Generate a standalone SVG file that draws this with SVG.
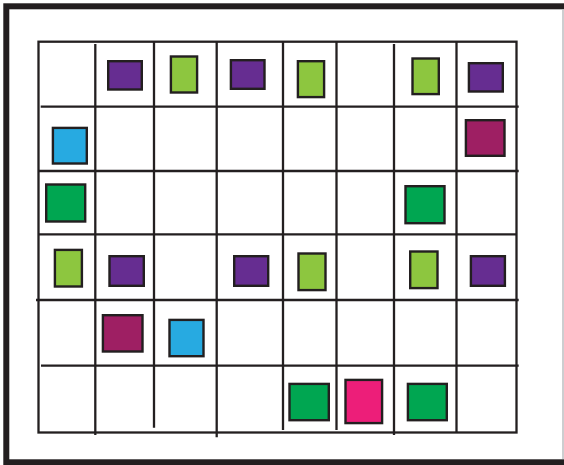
<svg xmlns="http://www.w3.org/2000/svg" width="564" height="465" viewBox="0 0 564 465">
<style>
.g{stroke:#231f20;stroke-width:2.3;fill:none}
.s{stroke:#231f20;stroke-width:2.4}
.pu{fill:#662d91}.li{fill:#8dc63f}.bl{fill:#27aae1}.gr{fill:#00a651}.mg{fill:#9e1f63}.pk{fill:#ed1e79}
</style>
<rect width="564" height="465" fill="#fff"/>
<rect x="6.3" y="6.3" width="600" height="456" fill="none" stroke="#231f20" stroke-width="6"/>
<line x1="563" y1="9" x2="563" y2="459" stroke="#bcbec0" stroke-width="1.5"/>
<g id="grid">
<rect class="g" x="38.5" y="41.7" width="478" height="390.8"/>
<line class="g" x1="40.7" y1="106.7" x2="518.7" y2="106.7"/>
<line class="g" x1="38.5" y1="171" x2="518.7" y2="171"/>
<line class="g" x1="38.5" y1="234.3" x2="516.5" y2="234.3"/>
<line class="g" x1="36" y1="300" x2="518.7" y2="300"/>
<line class="g" x1="41" y1="365.7" x2="518.7" y2="365.7"/>
<line class="g" x1="95.3" y1="44" x2="95.3" y2="435"/>
<line class="g" x1="154" y1="41.7" x2="154" y2="427.7"/>
<line class="g" x1="216.7" y1="41.7" x2="216.7" y2="437.3"/>
<line class="g" x1="283" y1="41.7" x2="283" y2="430"/>
<line class="g" x1="336.5" y1="41.7" x2="336.5" y2="430"/>
<line class="g" x1="394" y1="44" x2="394" y2="435"/>
<line class="g" x1="456.5" y1="41.7" x2="456.5" y2="432.5"/>
</g>
<g id="squares">
<rect id="sq1" class="s pu" x="108.2" y="61.2" width="33.6" height="28.3"/>
<rect id="sq2" class="s li" x="170.9" y="56.5" width="26.2" height="36"/>
<rect id="sq3" class="s pu" x="230.9" y="60.2" width="33.6" height="28.6"/>
<rect id="sq4" class="s li" x="297.9" y="61.2" width="26.2" height="35.9"/>
<rect id="sq5" class="s li" x="412.5" y="58.5" width="26.3" height="35.6"/>
<rect id="sq6" class="s pu" x="468.9" y="63.2" width="33.9" height="28.3"/>
<rect id="sq7" class="s bl" x="52.9" y="127.9" width="33.9" height="35.6"/>
<rect id="sq8" class="s mg" x="465.9" y="120.2" width="38.6" height="35.6"/>
<rect id="sq9" class="s gr" x="46.2" y="184.5" width="39" height="37"/>
<rect id="sq10" class="s gr" x="405.5" y="186.2" width="39" height="37"/>
<rect id="sq11" class="s li" x="54.9" y="249.9" width="27" height="36.6"/>
<rect id="sq12" class="s pu" x="109.5" y="256.2" width="34.3" height="29.6"/>
<rect id="sq13" class="s pu" x="234.2" y="256.2" width="34" height="29.6"/>
<rect id="sq14" class="s li" x="298.5" y="253.5" width="27" height="36.6"/>
<rect id="sq15" class="s li" x="410.2" y="251.5" width="27.3" height="36.6"/>
<rect id="sq16" class="s pu" x="470.9" y="256.2" width="34" height="29.6"/>
<rect id="sq17" class="s mg" x="102.9" y="315.2" width="39.6" height="36.3"/>
<rect id="sq18" class="s bl" x="169.5" y="319.9" width="34" height="36.3"/>
<rect id="sq19" class="s gr" x="289.5" y="383.9" width="39.3" height="36.3"/>
<rect id="sq20" class="s pk" x="345.5" y="379.9" width="36.6" height="43.2"/>
<rect id="sq21" class="s gr" x="407.9" y="383.9" width="38.9" height="36.3"/>
</g>
</svg>
